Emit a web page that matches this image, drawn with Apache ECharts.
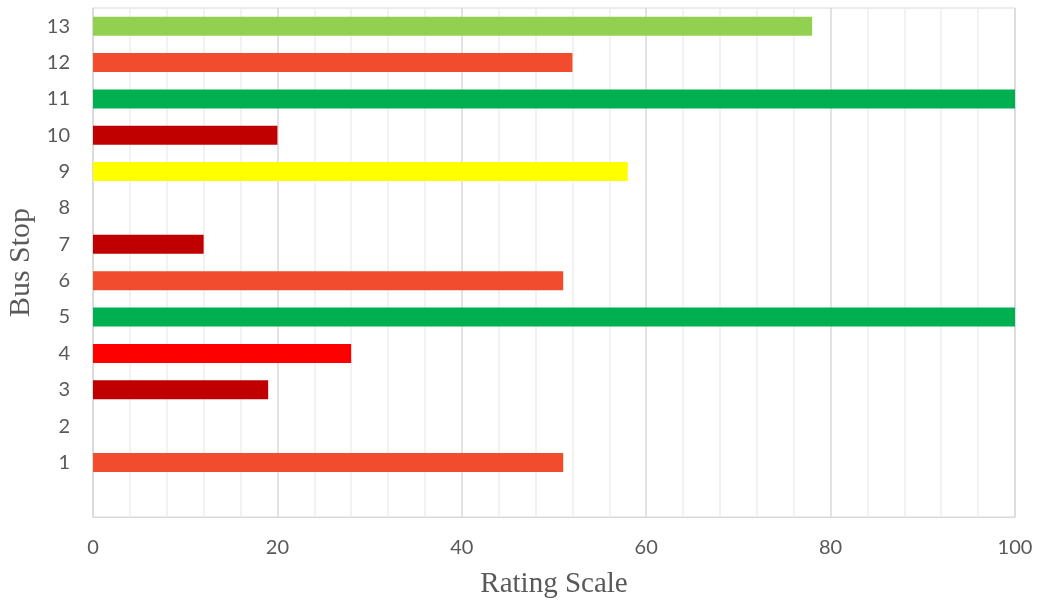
<!DOCTYPE html>
<html>
<head>
<meta charset="utf-8">
<script src="https://cdn.jsdelivr.net/npm/echarts@6/dist/echarts.min.js"></script>
<style>
html,body{margin:0;padding:0;background:#fff;}
#container{width:1039px;height:604px;}
</style>
</head>
<body>
<div id="container"></div>
<script>
// bottom slot is empty, no label
var stops = ['', '1', '2', '3', '4', '5', '6', '7', '8', '9', '10', '11', '12', '13'];
var ratings = [null, 51, null, 19, 28, 100, 51, 12, null, 58, 20, 100, 52, 78];
var barColors = ['#F24C2E', '#F24C2E', '#F24C2E', '#C00000', '#FF0000', '#00B050', '#F24C2E',
    '#C00000', '#C00000', '#FFFF00', '#C00000', '#00B050', '#F24C2E', '#92D050'];

var dom = document.getElementById("container");
var myChart = echarts.init(dom);

var data = ratings.map(function (v, i) {
    return { value: v, itemStyle: { color: barColors[i] } };
});

var option = {
    animation: false,
    grid: {
        left: 93, right: 24, top: 8, bottom: 87,
        outerBoundsMode: 'none',
        containLabel: false,
        show: true, borderColor: '#d9d9d9', borderWidth: 1
    },
    xAxis: {
        type: 'value',
        min: 0, max: 100, interval: 20,
        name: 'Rating Scale',
        nameLocation: 'middle',
        nameGap: 53,
        nameTextStyle: { fontFamily: 'Liberation Serif', fontSize: 29, color: '#595959' },
        axisLine: { show: true, lineStyle: { color: '#d9d9d9' } },
        axisTick: { show: false },
        axisLabel: { fontFamily: 'Lato', fontSize: 20, color: '#595959', margin: 21 },
        splitLine: { lineStyle: { color: '#d9d9d9', width: 1.5 } },
        minorTick: { show: false, splitNumber: 5 },
        minorSplitLine: { show: true, lineStyle: { color: '#eeeeee', width: 1.5 } }
    },
    yAxis: {
        type: 'category',
        data: stops,
        name: 'Bus Stop',
        nameLocation: 'middle',
        nameGap: 54,
        nameTextStyle: { fontFamily: 'Liberation Serif', fontSize: 30, color: '#595959' },
        axisLine: { show: true, lineStyle: { color: '#d9d9d9' } },
        axisTick: { show: false },
        axisLabel: { fontFamily: 'Lato', fontSize: 20, color: '#595959', margin: 23 },
        splitLine: { show: false }
    },
    series: [{
        type: 'bar',
        barWidth: 19,
        data: data
    }]
};
myChart.setOption(option, true);
</script>
</body>
</html>
